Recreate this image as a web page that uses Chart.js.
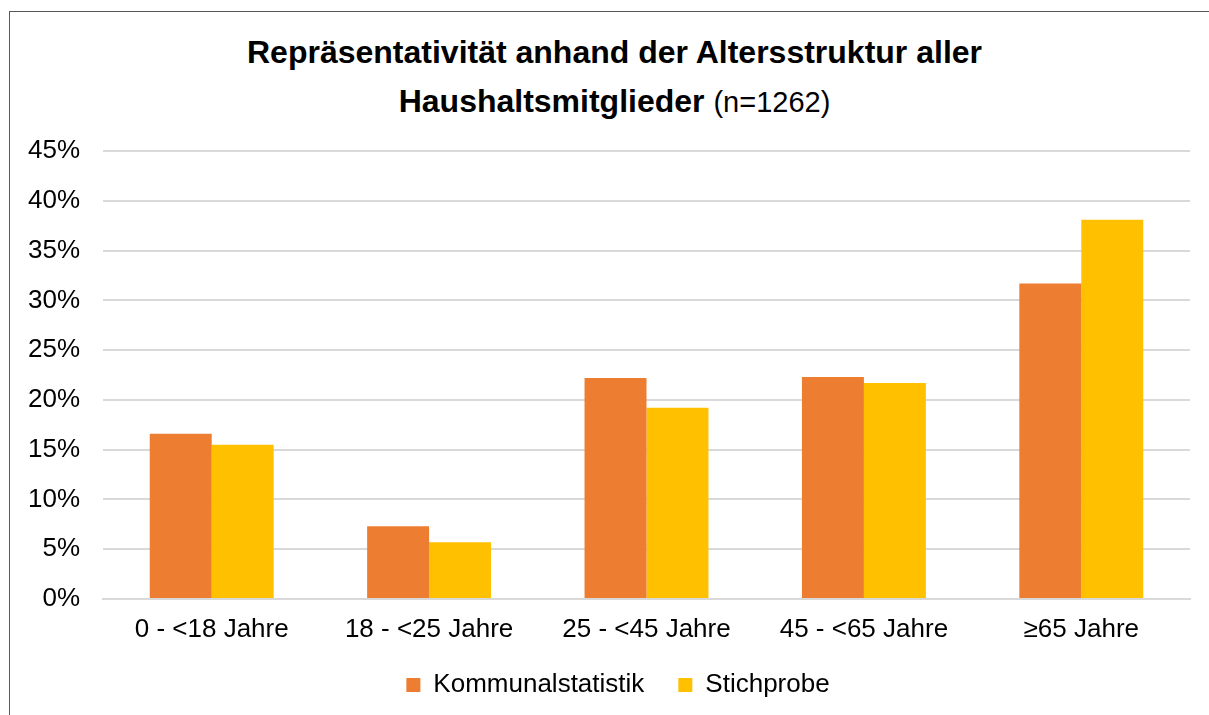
<!DOCTYPE html>
<html>
<head>
<meta charset="utf-8">
<script src="https://cdn.jsdelivr.net/npm/chart.js@4/dist/chart.umd.min.js"></script>
<style>
  html, body { margin: 0; padding: 0; background: #fff; }
  body { width: 1209px; height: 715px; position: relative; overflow: hidden; font-family: "Liberation Sans", Arial, sans-serif; }
  #frame { position: absolute; left: 9px; top: 11px; width: 1220px; height: 720px; border: 1px solid #595959; box-sizing: border-box; }
  .t { position: absolute; left: 0; width: 1229px; text-align: center; color: #000; white-space: nowrap; line-height: 38px; }
  #t1 { top: 33px; font-size: 32px; font-weight: bold; }
  #t2 { top: 82px; font-size: 32px; font-weight: bold; }
  #t2 span { font-weight: normal; font-size: 29px; }
  #wrap { position: absolute; left: 0; top: 130px; width: 1209px; height: 585px; }
</style>
</head>
<body>
<div id="frame"></div>
<div class="t" id="t1">Repräsentativität anhand der Altersstruktur aller</div>
<div class="t" id="t2">Haushaltsmitglieder <span>(n=1262)</span></div>
<div id="wrap"><canvas id="c" width="1209" height="585"></canvas></div>
<script>
const categories = ["0 - <18 Jahre", "18 - <25 Jahre", "25 - <45 Jahre", "45 - <65 Jahre", "≥65 Jahre"];
const seriesNames = ["Kommunalstatistik", "Stichprobe"];
const kommunalstatistik = [16.6, 7.3, 22.2, 22.3, 31.7];
const stichprobe = [15.5, 5.7, 19.2, 21.7, 38.1];
const yTicks = [0, 5, 10, 15, 20, 25, 30, 35, 40, 45];

const font = "'Liberation Sans', Arial, sans-serif";

const legendShift = {
  id: 'legendShift',
  beforeDraw(chart) {
    const l = chart.legend;
    if (!l) return;
    const right = l.right;
    l.left = 46;
    l.width = right - 46;
  }
};

new Chart(document.getElementById('c'), {
  type: 'bar',
  data: {
    labels: categories,
    datasets: [
      { label: seriesNames[0], data: kommunalstatistik, backgroundColor: '#ED7D31', borderWidth: 0 },
      { label: seriesNames[1], data: stichprobe, backgroundColor: '#FFC000', borderWidth: 0 }
    ]
  },
  plugins: [legendShift],
  options: {
    responsive: false,
    animation: false,
    devicePixelRatio: 1,
    layout: { padding: { left: 0, right: 19, top: 21, bottom: 7 } },
    datasets: { bar: { categoryPercentage: 0.57, barPercentage: 1.0 } },
    plugins: {
      title: { display: false },
      tooltip: { enabled: false },
      legend: {
        position: 'bottom',
        labels: {
          font: { family: font, size: 26 },
          color: '#000',
          boxWidth: 14,
          boxHeight: 14,
          padding: 34
        }
      }
    },
    scales: {
      x: {
        grid: { display: false, drawTicks: false },
        border: { display: true, color: '#d9d9d9', width: 2 },
        ticks: { font: { family: font, size: 26 }, color: '#000', padding: 15, maxRotation: 0, autoSkip: false },
        afterFit: (s) => { s.height = 39; s.paddingLeft = 0; s.paddingRight = 0; }
      },
      y: {
        min: 0, max: 45,
        afterBuildTicks: (s) => { s.ticks = yTicks.map(v => ({ value: v })); },
        grid: { color: '#d9d9d9', lineWidth: 2, drawTicks: false },
        border: { display: false },
        ticks: { font: { family: font, size: 26 }, color: '#000', padding: 23, callback: (v) => v + '%' },
        afterFit: (s) => { s.width = 103; s.paddingTop = 0; s.paddingBottom = 0; }
      }
    }
  }
});
</script>
</body>
</html>
